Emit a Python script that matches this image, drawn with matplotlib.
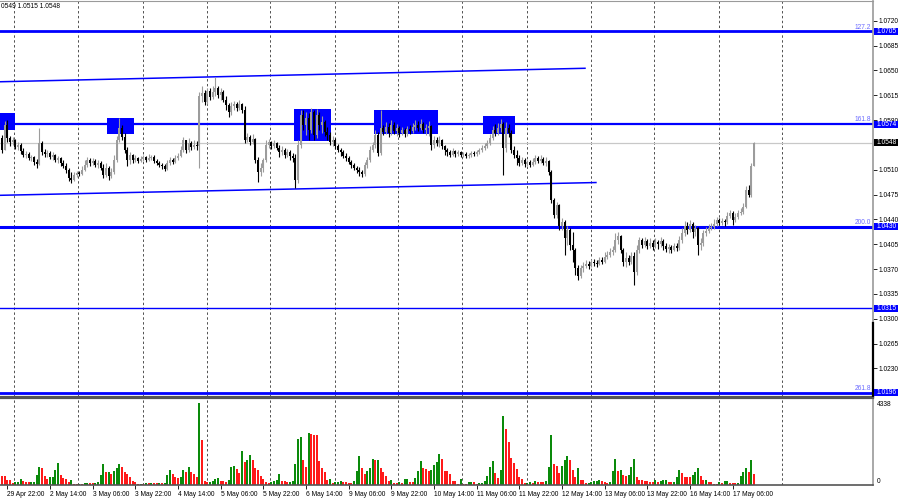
import matplotlib.pyplot as plt
import matplotlib.transforms as mtransforms
from matplotlib.patches import Rectangle

plt.rcParams['font.family'] = ['Liberation Sans', 'DejaVu Sans']

# EURUSD H1, 29 Apr 20:00 .. 17 May 14:00 (bar index 0..282)
first_open = 1.0555
close = [
    1.0538, 1.0573, 1.0555, 1.0549, 1.0552, 1.0542, 1.0545, 1.0536, 1.0531, 1.0532,
    1.0527, 1.0528, 1.0521, 1.0518, 1.0548, 1.0535, 1.0532, 1.0534, 1.0528, 1.0531,
    1.0524, 1.0527, 1.0520, 1.0515, 1.0510, 1.0498, 1.0496, 1.0503, 1.0505, 1.0504,
    1.0510, 1.0517, 1.0524, 1.0520, 1.0522, 1.0517, 1.0520, 1.0512, 1.0503, 1.0512,
    1.0501, 1.0507, 1.0524, 1.0552, 1.0569, 1.0556, 1.0538, 1.0524, 1.0531, 1.0524,
    1.0527, 1.0522, 1.0525, 1.0528, 1.0524, 1.0527, 1.0528, 1.0522, 1.0520, 1.0517,
    1.0515, 1.0511, 1.0520, 1.0524, 1.0521, 1.0527, 1.0529, 1.0538, 1.0552, 1.0538,
    1.0548, 1.0542, 1.0545, 1.0543, 1.0614, 1.0618, 1.0605, 1.0621, 1.0613, 1.0620,
    1.0625, 1.0615, 1.0620, 1.0608, 1.0601, 1.0591, 1.0600, 1.0603, 1.0597, 1.0603,
    1.0594, 1.0552, 1.0556, 1.0549, 1.0553, 1.0524, 1.0507, 1.0512, 1.0524, 1.0545,
    1.0549, 1.0543, 1.0548, 1.0541, 1.0535, 1.0538, 1.0531, 1.0535, 1.0529, 1.0527,
    1.0496, 1.0545, 1.0587, 1.0573, 1.0583, 1.0566, 1.0591, 1.0559, 1.0587, 1.0573,
    1.0577, 1.0563, 1.0559, 1.0549, 1.0552, 1.0543, 1.0538, 1.0535, 1.0529, 1.0527,
    1.0521, 1.0517, 1.0512, 1.0510, 1.0507, 1.0504, 1.0517, 1.0524, 1.0538, 1.0545,
    1.0559, 1.0534, 1.0569, 1.0563, 1.0570, 1.0562, 1.0573, 1.0565, 1.0569, 1.0562,
    1.0566, 1.0560, 1.0567, 1.0565, 1.0570, 1.0573, 1.0569, 1.0575, 1.0566, 1.0569,
    1.0572, 1.0545, 1.0552, 1.0548, 1.0552, 1.0543, 1.0538, 1.0535, 1.0531, 1.0536,
    1.0532, 1.0535, 1.0531, 1.0532, 1.0529, 1.0531, 1.0534, 1.0532, 1.0535, 1.0538,
    1.0541, 1.0543, 1.0548, 1.0555, 1.0566, 1.0562, 1.0569, 1.0575, 1.0541, 1.0569,
    1.0562, 1.0538, 1.0531, 1.0527, 1.0520, 1.0524, 1.0518, 1.0521, 1.0517, 1.0521,
    1.0527, 1.0522, 1.0525, 1.0520, 1.0522, 1.0507, 1.0467, 1.0446, 1.0460, 1.0431,
    1.0436, 1.0414, 1.0425, 1.0404, 1.0397, 1.0372, 1.0360, 1.0372, 1.0374, 1.0377,
    1.0374, 1.0380, 1.0379, 1.0377, 1.0383, 1.0380, 1.0387, 1.0390, 1.0394, 1.0397,
    1.0411, 1.0417, 1.0397, 1.0380, 1.0386, 1.0380, 1.0389, 1.0366, 1.0397, 1.0411,
    1.0404, 1.0410, 1.0403, 1.0407, 1.0401, 1.0408, 1.0405, 1.0410, 1.0403, 1.0398,
    1.0401, 1.0397, 1.0403, 1.0400, 1.0411, 1.0421, 1.0431, 1.0425, 1.0434, 1.0422,
    1.0428, 1.0404, 1.0407, 1.0421, 1.0424, 1.0428, 1.0429, 1.0434, 1.0439, 1.0435,
    1.0438, 1.0436, 1.0445, 1.0449, 1.0439, 1.0443, 1.0449, 1.0450, 1.0458, 1.0481,
    1.0474, 1.0515, 1.0548,
]
high = [
    1.0559, 1.0579, 1.0580, 1.0558, 1.0556, 1.0553, 1.0549, 1.0548, 1.0541, 1.0536,
    1.0535, 1.0531, 1.0529, 1.0525, 1.0569, 1.0551, 1.0539, 1.0538, 1.0536, 1.0535,
    1.0532, 1.0529, 1.0528, 1.0524, 1.0520, 1.0512, 1.0507, 1.0507, 1.0508, 1.0508,
    1.0515, 1.0524, 1.0528, 1.0527, 1.0527, 1.0525, 1.0524, 1.0522, 1.0518, 1.0520,
    1.0515, 1.0512, 1.0531, 1.0558, 1.0583, 1.0573, 1.0562, 1.0542, 1.0535, 1.0532,
    1.0531, 1.0528, 1.0529, 1.0531, 1.0529, 1.0532, 1.0531, 1.0531, 1.0525, 1.0522,
    1.0520, 1.0518, 1.0524, 1.0528, 1.0527, 1.0531, 1.0534, 1.0543, 1.0556, 1.0552,
    1.0555, 1.0551, 1.0552, 1.0551, 1.0620, 1.0628, 1.0622, 1.0625, 1.0625, 1.0628,
    1.0641, 1.0628, 1.0625, 1.0622, 1.0614, 1.0604, 1.0605, 1.0607, 1.0605, 1.0608,
    1.0604, 1.0600, 1.0562, 1.0559, 1.0560, 1.0555, 1.0528, 1.0520, 1.0527, 1.0552,
    1.0553, 1.0551, 1.0552, 1.0549, 1.0545, 1.0543, 1.0541, 1.0539, 1.0538, 1.0534,
    1.0532, 1.0552, 1.0594, 1.0594, 1.0591, 1.0590, 1.0597, 1.0594, 1.0596, 1.0591,
    1.0586, 1.0580, 1.0570, 1.0563, 1.0558, 1.0555, 1.0546, 1.0541, 1.0538, 1.0534,
    1.0529, 1.0524, 1.0520, 1.0515, 1.0514, 1.0510, 1.0521, 1.0528, 1.0543, 1.0549,
    1.0566, 1.0563, 1.0594, 1.0573, 1.0577, 1.0576, 1.0580, 1.0577, 1.0575, 1.0572,
    1.0570, 1.0569, 1.0572, 1.0573, 1.0576, 1.0580, 1.0579, 1.0582, 1.0577, 1.0575,
    1.0579, 1.0573, 1.0558, 1.0556, 1.0558, 1.0553, 1.0545, 1.0541, 1.0538, 1.0541,
    1.0538, 1.0538, 1.0536, 1.0535, 1.0535, 1.0534, 1.0536, 1.0536, 1.0538, 1.0541,
    1.0545, 1.0548, 1.0552, 1.0560, 1.0572, 1.0575, 1.0576, 1.0582, 1.0577, 1.0577,
    1.0575, 1.0566, 1.0543, 1.0538, 1.0531, 1.0528, 1.0527, 1.0524, 1.0524, 1.0527,
    1.0531, 1.0529, 1.0531, 1.0528, 1.0528, 1.0524, 1.0510, 1.0470, 1.0465, 1.0462,
    1.0442, 1.0439, 1.0431, 1.0428, 1.0422, 1.0400, 1.0376, 1.0376, 1.0380, 1.0383,
    1.0382, 1.0384, 1.0384, 1.0383, 1.0387, 1.0387, 1.0394, 1.0396, 1.0400, 1.0403,
    1.0421, 1.0422, 1.0418, 1.0400, 1.0394, 1.0390, 1.0394, 1.0394, 1.0404, 1.0415,
    1.0414, 1.0415, 1.0412, 1.0414, 1.0411, 1.0414, 1.0411, 1.0415, 1.0412, 1.0407,
    1.0405, 1.0404, 1.0407, 1.0407, 1.0417, 1.0428, 1.0438, 1.0436, 1.0439, 1.0436,
    1.0432, 1.0429, 1.0414, 1.0425, 1.0429, 1.0434, 1.0435, 1.0441, 1.0443, 1.0442,
    1.0442, 1.0441, 1.0450, 1.0453, 1.0452, 1.0449, 1.0453, 1.0456, 1.0463, 1.0487,
    1.0489, 1.0520, 1.0549,
]
low = [
    1.0534, 1.0538, 1.0549, 1.0543, 1.0545, 1.0539, 1.0538, 1.0532, 1.0528, 1.0527,
    1.0524, 1.0522, 1.0517, 1.0512, 1.0517, 1.0531, 1.0528, 1.0528, 1.0525, 1.0524,
    1.0521, 1.0520, 1.0515, 1.0512, 1.0505, 1.0494, 1.0491, 1.0494, 1.0500, 1.0501,
    1.0503, 1.0508, 1.0514, 1.0515, 1.0517, 1.0514, 1.0512, 1.0510, 1.0498, 1.0500,
    1.0496, 1.0498, 1.0504, 1.0521, 1.0549, 1.0552, 1.0534, 1.0515, 1.0518, 1.0520,
    1.0521, 1.0520, 1.0521, 1.0522, 1.0521, 1.0522, 1.0524, 1.0520, 1.0517, 1.0514,
    1.0511, 1.0508, 1.0510, 1.0517, 1.0518, 1.0520, 1.0524, 1.0528, 1.0535, 1.0534,
    1.0535, 1.0538, 1.0539, 1.0538, 1.0512, 1.0605, 1.0601, 1.0603, 1.0608, 1.0610,
    1.0614, 1.0611, 1.0608, 1.0605, 1.0594, 1.0584, 1.0587, 1.0594, 1.0593, 1.0594,
    1.0590, 1.0548, 1.0549, 1.0545, 1.0546, 1.0520, 1.0493, 1.0501, 1.0507, 1.0521,
    1.0541, 1.0539, 1.0541, 1.0538, 1.0528, 1.0531, 1.0527, 1.0528, 1.0524, 1.0521,
    1.0484, 1.0491, 1.0541, 1.0566, 1.0559, 1.0552, 1.0562, 1.0552, 1.0555, 1.0566,
    1.0562, 1.0558, 1.0552, 1.0545, 1.0543, 1.0539, 1.0535, 1.0529, 1.0527, 1.0522,
    1.0518, 1.0512, 1.0510, 1.0505, 1.0501, 1.0500, 1.0501, 1.0512, 1.0521, 1.0535,
    1.0541, 1.0529, 1.0531, 1.0559, 1.0560, 1.0556, 1.0559, 1.0560, 1.0558, 1.0556,
    1.0559, 1.0556, 1.0558, 1.0560, 1.0562, 1.0566, 1.0565, 1.0566, 1.0562, 1.0559,
    1.0558, 1.0538, 1.0541, 1.0543, 1.0542, 1.0539, 1.0531, 1.0529, 1.0528, 1.0529,
    1.0528, 1.0529, 1.0528, 1.0528, 1.0527, 1.0527, 1.0528, 1.0529, 1.0529, 1.0532,
    1.0535, 1.0538, 1.0541, 1.0545, 1.0552, 1.0558, 1.0559, 1.0563, 1.0503, 1.0535,
    1.0556, 1.0534, 1.0527, 1.0517, 1.0515, 1.0517, 1.0514, 1.0515, 1.0514, 1.0515,
    1.0518, 1.0520, 1.0520, 1.0517, 1.0515, 1.0503, 1.0463, 1.0442, 1.0442, 1.0425,
    1.0425, 1.0390, 1.0404, 1.0397, 1.0380, 1.0362, 1.0355, 1.0358, 1.0366, 1.0372,
    1.0370, 1.0373, 1.0374, 1.0373, 1.0376, 1.0377, 1.0379, 1.0384, 1.0387, 1.0390,
    1.0394, 1.0405, 1.0393, 1.0374, 1.0373, 1.0376, 1.0377, 1.0348, 1.0362, 1.0393,
    1.0400, 1.0401, 1.0398, 1.0400, 1.0397, 1.0400, 1.0398, 1.0401, 1.0397, 1.0394,
    1.0393, 1.0393, 1.0396, 1.0396, 1.0397, 1.0407, 1.0417, 1.0420, 1.0422, 1.0414,
    1.0417, 1.0390, 1.0397, 1.0403, 1.0417, 1.0421, 1.0425, 1.0427, 1.0431, 1.0432,
    1.0432, 1.0431, 1.0434, 1.0442, 1.0432, 1.0436, 1.0441, 1.0446, 1.0448, 1.0456,
    1.0472, 1.0472, 1.0515,
]
volume = [
    500, 495, 268, 260, 89, 179, 185, 321, 196, 143,
    140, 150, 155, 553, 982, 910, 500, 321, 411, 446,
    803, 1160, 553, 375, 321, 143, 268, 54, 50, 60,
    54, 125, 130, 107, 100, 125, 179, 536, 1125, 678,
    690, 589, 768, 910, 1089, 982, 678, 589, 411, 232,
    143, 54, 60, 54, 107, 89, 95, 90, 85, 107,
    89, 100, 536, 803, 589, 446, 375, 446, 821, 714,
    946, 678, 589, 446, 4338, 2410, 232, 143, 150, 232,
    321, 375, 196, 190, 185, 268, 982, 990, 857, 625,
    1785, 1214, 1339, 1571, 1303, 910, 803, 500, 321, 143,
    125, 135, 196, 268, 589, 232, 196, 143, 150, 232,
    1125, 2463, 2553, 1303, 982, 2760, 2731, 2642, 2640, 1267,
    910, 678, 268, 321, 89, 143, 179, 232, 143, 140,
    130, 125, 232, 768, 1517, 910, 589, 732, 910, 1392,
    1303, 1339, 910, 714, 500, 232, 268, 89, 85, 143,
    120, 321, 330, 179, 175, 375, 732, 1250, 893, 857,
    768, 780, 1071, 1214, 1660, 1392, 768, 760, 589, 196,
    190, 54, 321, 54, 50, 143, 179, 143, 54, 125,
    130, 232, 500, 946, 1250, 625, 375, 803, 3659, 2999,
    2285, 1428, 1160, 857, 446, 303, 89, 95, 143, 130,
    196, 161, 155, 143, 232, 946, 2642, 1089, 1035, 625,
    1035, 1303, 1517, 1339, 803, 446, 893, 268, 260, 89,
    95, 143, 196, 232, 286, 196, 143, 125, 179, 768,
    1392, 732, 803, 553, 500, 510, 982, 1357, 446, 268,
    260, 232, 196, 143, 140, 268, 143, 196, 268, 286,
    143, 140, 145, 446, 821, 625, 411, 405, 400, 553,
    714, 910, 500, 268, 286, 143, 140, 54, 50, 143,
    89, 196, 232, 125, 120, 89, 107, 500, 714, 893,
    678, 1303, 589,
]

# time scale labels (bar index of each label)
label_bars = [2, 18, 34, 50, 66, 82, 98, 114, 130, 146, 162, 178, 194, 210, 226, 242, 258, 274]
time_labels = ['29 Apr 22:00', '2 May 14:00', '3 May 06:00', '3 May 22:00', '4 May 14:00',
               '5 May 06:00', '5 May 22:00', '6 May 14:00', '9 May 06:00', '9 May 22:00',
               '10 May 14:00', '11 May 06:00', '11 May 22:00', '12 May 14:00', '13 May 06:00',
               '13 May 22:00', '16 May 14:00', '17 May 06:00']
grid_bars = [4.6, 28.6, 52.8, 76.8, 100.6, 124.8, 148.6, 172.6, 196.7, 220.7, 244.6, 268.8, 292.6]

# scale ticks (1.0545 and 1.0195 sit under the price boxes)
price_ticks = [1.0720, 1.0685, 1.0650, 1.0615, 1.0580, 1.0510, 1.0475, 1.0440,
               1.0405, 1.0370, 1.0335, 1.0300, 1.0265, 1.0230]

# fibo levels
levels = [1.0705, 1.0574, 1.0430, 1.0315, 1.0196]
level_names = ['127.2', '161.8', '200.0', '', '261.8']
last_price = 1.0548

# channel (bar index, price)
chan_up_x, chan_up_y = [-0.74, 218.6], [1.0634, 1.0653]
chan_lo_x, chan_lo_y = [-0.74, 222.7], [1.0474, 1.0492]

# boxes: bar from, bar to, price low, price high
box_x0 = [-0.74, 39.5, 109.5, 139.5, 180.5]
box_x1 = [4.9, 49.5, 123.5, 163.4, 192.5]
box_p0 = [1.0566, 1.0561, 1.0551, 1.0561, 1.0560]
box_p1 = [1.0590, 1.0583, 1.0595, 1.0594, 1.0586]

BLUE = '#0000ff'
n = len(close)
opens = [first_open] + close[:-1]
idx = list(range(n))

fig = plt.figure(figsize=(9, 4.99), dpi=100)
ax = fig.add_axes([0, 102 / 499, 872.5 / 900, 396 / 499])
vax = fig.add_axes([0, 14 / 499, 872.5 / 900, 87 / 499])

# candles
bull = [c >= o for o, c in zip(opens, close)]
ccol = ['#9c9c9c' if b else 'black' for b in bull]
wlo = [min(l, o, c) for l, o, c in zip(low, opens, close)]
whi = [max(h, o, c) for h, o, c in zip(high, opens, close)]
ax.vlines(idx, wlo, whi, colors=ccol, lw=0.8, zorder=3)
body_bottom = [min(o, c) for o, c in zip(opens, close)]
body_h = [max(abs(c - o), 0.00003) for o, c in zip(opens, close)]
ax.bar(idx, body_h, bottom=body_bottom, width=0.78, color=ccol, lw=0, zorder=3)

# boxes
for x0, x1, p0, p1 in zip(box_x0, box_x1, box_p0, box_p1):
    ax.add_patch(Rectangle((x0, p0), x1 - x0, p1 - p0, fc=BLUE, ec='none', zorder=1))

# levels
ax.axhline(last_price, color='#c8c8c8', lw=0.9, zorder=1.5)
for lv, lw in zip(levels, [2.0, 1.6, 2.2, 1.0, 2.0]):
    ax.axhline(lv, color=BLUE, lw=lw, zorder=2)
pix_data = mtransforms.blended_transform_factory(mtransforms.IdentityTransform(), ax.transData)
for lv, name in zip(levels, level_names):
    if name:
        ax.text(871, lv + 0.00012, name, fontsize=4.8, color='#6a6aff', ha='right', va='bottom',
                transform=pix_data, zorder=5)

ax.plot(chan_up_x, chan_up_y, color=BLUE, lw=1.1, zorder=2)
ax.plot(chan_lo_x, chan_lo_y, color=BLUE, lw=1.1, zorder=2)

# vertical grid
for g in grid_bars:
    ax.axvline(g, color='#505050', lw=0.7, ls=(0, (2.5, 2.5)), zorder=0.5)
    vax.axvline(g, color='#505050', lw=0.7, ls=(0, (2.5, 2.5)), zorder=0.5)

ax.set_xlim(-0.74, 326.4)
ax.set_ylim(1.01898, 1.07478)
ax.set_xticks([])
ax.yaxis.tick_right()
ax.set_yticks(price_ticks)
ax.set_yticklabels(['%.4f' % p for p in price_ticks])
ax.tick_params(axis='y', direction='out', length=3, width=0.6, labelsize=4.8, pad=1.5)

# price boxes on the scale
trans = mtransforms.blended_transform_factory(ax.transAxes, ax.transData)
half = 0.00050
for lv, fc in zip(levels + [last_price], [BLUE] * len(levels) + ['black']):
    ax.add_patch(Rectangle((1.0017, lv - half), 0.0275, 2 * half, transform=trans,
                           fc=fc, ec='none', clip_on=False, zorder=10))
    ax.text(1.0042, lv, '%.4f' % lv, transform=trans, fontsize=4.8, color='white',
            ha='left', va='center', clip_on=False, zorder=11)

ax.spines['left'].set_visible(False)
ax.spines['top'].set_color('#9a9a9a')
ax.spines['right'].set_color('#9a9a9a')
ax.spines['right'].set_linewidth(1.2)
ax.spines['bottom'].set_color('#555555')
ax.spines['bottom'].set_linewidth(1.6)
# dark part of the scale border
ax.plot([1.0, 1.0], [0.003, 0.188], transform=ax.transAxes, color='black', lw=1.6,
        clip_on=False, zorder=9)

# volumes
vcol = ['#ff1a1a'] + ['#0a8a0a' if volume[i] > volume[i - 1] else '#ff1a1a' for i in range(1, n)]
vax.bar(idx, volume, width=0.72, color=vcol, lw=0, zorder=2)
vax.set_xlim(-0.74, 326.4)
vax.set_ylim(0, 4620)
vax.yaxis.tick_right()
vax.set_yticks([4338, 0])
vax.set_yticklabels(['4338', '0'])
vax.tick_params(axis='y', length=0, labelsize=4.8, pad=3)
vax.get_yticklabels()[1].set_va('bottom')
vax.set_xticks(label_bars)
vax.set_xticklabels(time_labels, ha='left')
vax.tick_params(axis='x', direction='out', length=3, width=0.6, labelsize=4.8, pad=1.5)
vax.spines['left'].set_visible(False)
vax.spines['top'].set_color('#555555')
vax.spines['top'].set_linewidth(1.6)
vax.spines['right'].set_color('#9a9a9a')
vax.spines['right'].set_linewidth(1.2)
vax.spines['bottom'].set_color('#555555')
vax.spines['bottom'].set_linewidth(1.2)

fig.text(1 / 900, 1 - 7 / 499, '0549 1.0515 1.0548', fontsize=4.8, va='center', ha='left')

fig.savefig('out.png', dpi=100, facecolor='white')
